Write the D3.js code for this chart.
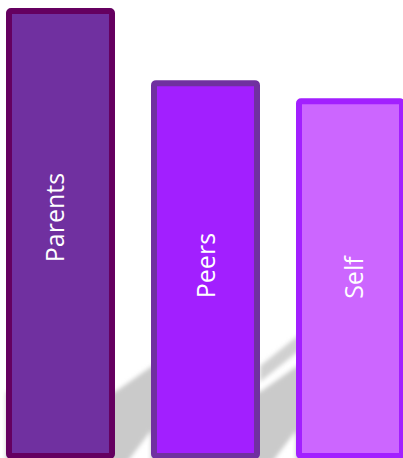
<!DOCTYPE html>
<html>
<head>
<meta charset="utf-8">
<script src="https://cdn.jsdelivr.net/npm/d3@7"></script>
<style>
  html, body { margin: 0; padding: 0; background: #ffffff; overflow: hidden; }
  svg { display: block; }
</style>
</head>
<body>
<svg id="chart" width="403" height="458"></svg>
<script>
// Who sets the standard: three bars, tallest first
const categories = ["Parents", "Peers", "Self"];
const values = [100, 84, 80];
const fillColors = ["#7030a0", "#a21fff", "#cc66ff"];
const borderColors = ["#650060", "#7030a0", "#a21fff"];

const W = 403, H = 458;
const baseY = 459;          // outer bottom edge of the bars
const groundY = 478;        // where the cast shadows start
const border = 6;

const svg = d3.select("#chart");

const x = d3.scaleBand()
  .domain(categories)
  .range([6, 405])
  .paddingInner(0.2483)
  .paddingOuter(0);

const y = d3.scaleLinear()
  .domain([0, 100])
  .range([baseY, 8]);

const rows = categories.map((c, i) => ({ c, v: values[i], fill: fillColors[i], stroke: borderColors[i], i }));

// soft blur for the cast shadows
const defs = svg.append("defs");
defs.append("filter")
  .attr("id", "soft")
  .attr("x", "-20%").attr("y", "-20%").attr("width", "140%").attr("height", "140%")
  .append("feGaussianBlur").attr("stdDeviation", 2.2);

// perspective shadows falling up and to the right behind each bar
const shadowLayer = svg.append("g").attr("filter", "url(#soft)");
rows.forEach(d => {
  const x0 = x(d.c), x1 = x0 + x.bandwidth();
  const pts = [
    [x0, groundY], [x1, groundY],
    [x1 + 60, groundY - 79], [x1 + 60, 350],
    [x1, 392], [x0, 392]
  ];
  shadowLayer.append("polygon")
    .attr("points", pts.map(p => p.join(",")).join(" "))
    .attr("fill", "#cacaca");
  if (d.c === "Peers") {
    // the middle bar's shadow carries a second, fainter band higher up
    const band = [[x1, 366], [x1 + 40, 334], [x1 + 40, 350], [x1, 382]];
    shadowLayer.append("polygon")
      .attr("points", band.map(p => p.join(",")).join(" "))
      .attr("fill", "#d0d0d0");
  }
});

// bars, with their borders drawn inside the outer box
svg.append("g")
  .selectAll("rect")
  .data(rows)
  .join("rect")
  .attr("x", d => x(d.c) + border / 2)
  .attr("y", d => y(d.v) + border / 2)
  .attr("width", x.bandwidth() - border)
  .attr("height", d => baseY - y(d.v) - border)
  .attr("rx", 2)
  .attr("fill", d => d.fill)
  .attr("stroke", d => d.stroke)
  .attr("stroke-width", border);

// vertical white labels
const labelShiftX = [-5, 0, 3];
const labelShiftY = [-16, -4, -1];
svg.append("g")
  .selectAll("text")
  .data(rows)
  .join("text")
  .attr("transform", d => {
    const cx = x(d.c) + x.bandwidth() / 2 + labelShiftX[d.i];
    const cy = (y(d.v) + baseY) / 2 + labelShiftY[d.i];
    return `translate(${cx},${cy}) rotate(-90)`;
  })
  .attr("text-anchor", "middle")
  .attr("y", 9)
  .attr("font-family", "'Open Sans', 'Noto Sans', sans-serif")
  .attr("font-size", 25)
  .attr("fill", "#ffffff")
  .text(d => d.c);
</script>
</body>
</html>
